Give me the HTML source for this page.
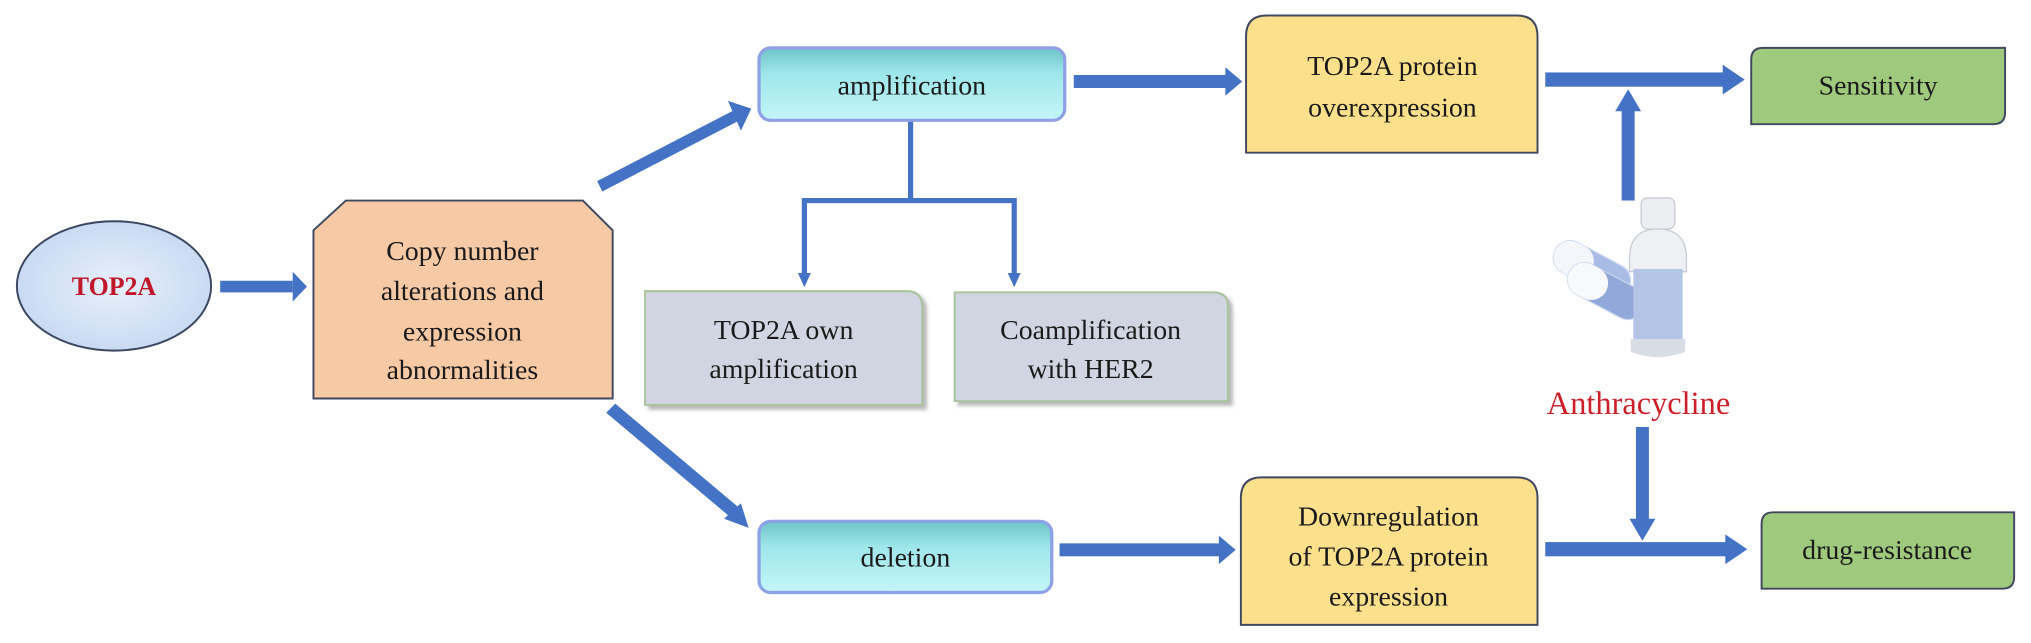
<!DOCTYPE html>
<html><head><meta charset="utf-8"><style>
body{margin:0;background:#fff}
svg{display:block}
text{font-family:"Liberation Serif",serif;fill:#1a1a1a;font-size:21.5px;text-anchor:middle}
</style></head><body>
<svg width="2031" height="643" viewBox="0 0 1568 497" preserveAspectRatio="none">
<defs>
<linearGradient id="cy" x1="0" y1="0" x2="0" y2="1"><stop offset="0" stop-color="#6cc4c8"/><stop offset="0.35" stop-color="#9ee6ea"/><stop offset="1" stop-color="#c4f6f8"/></linearGradient>
<radialGradient id="el" cx="0.5" cy="0.5" r="0.6"><stop offset="0" stop-color="#e8f0fb"/><stop offset="1" stop-color="#c2d6f0"/></radialGradient>
<filter id="sh"><feDropShadow dx="3" dy="3" stdDeviation="1.5" flood-color="#888" flood-opacity="0.6"/></filter>
</defs>
<g fill="#4472c4">
<rect x="170" y="217" width="56" height="9"/><polygon points="226,210 237,221.5 226,233"/>
<polygon points="461,140 567,85 571,93 465,148"/><polygon points="562,78 580,84 572,101"/>
<rect x="829" y="58" width="118" height="10"/><polygon points="946,52 959,63 946,74"/>
<rect x="1193" y="56" width="138" height="11"/><polygon points="1330,50 1347,61.5 1330,73"/>
<rect x="1252" y="84" width="10" height="71"/><polygon points="1247,86 1257,69 1267,86"/>
<polygon points="468,319 475,312 570,392 563,399"/><polygon points="559,401 578,408 572,389"/>
<rect x="818" y="420" width="124" height="10"/><polygon points="941,414 954,425 941,436"/>
<rect x="1193" y="419" width="140" height="11"/><polygon points="1332,413 1349,424.5 1332,436"/>
<rect x="1263" y="330" width="10" height="72"/><polygon points="1258,401 1268,418 1278,401"/>
</g>
<g stroke="#4472c4" stroke-width="4" fill="none">
<path d="M703,92 V155 M619,155 H785 M621,155 V212 M783,155 V212"/>
</g>
<polygon points="616,211 626,211 621,222" fill="#4472c4"/>
<polygon points="778,211 788,211 783,222" fill="#4472c4"/>

<ellipse cx="88" cy="221" rx="75" ry="50" fill="url(#el)" stroke="#3a4560" stroke-width="1.5"/>
<text x="88" y="228" style="font-weight:bold;fill:#c0182a;font-size:20px">TOP2A</text>

<polygon points="267,155 450,155 473,178 473,308 242,308 242,178" fill="#f7c9a5" stroke="#404860" stroke-width="1.5"/>
<text x="357" y="201">Copy number</text>
<text x="357" y="232">alterations and</text>
<text x="357" y="263">expression</text>
<text x="357" y="293">abnormalities</text>

<rect x="586" y="37" width="236" height="56" rx="9" fill="url(#cy)" stroke="#8ea0e6" stroke-width="2.5"/>
<text x="704" y="73">amplification</text>

<path d="M498,225 H700 Q712,225 712,237 V313 H498 Z" fill="#d1d5e1" stroke="#a8c49a" stroke-width="1.5" filter="url(#sh)"/>
<text x="605" y="262">TOP2A own</text>
<text x="605" y="292">amplification</text>
<path d="M737,226 H937 Q948,226 948,237 V310 H737 Z" fill="#d1d5e1" stroke="#a8c49a" stroke-width="1.5" filter="url(#sh)"/>
<text x="842" y="262">Coamplification</text>
<text x="842" y="292">with HER2</text>

<path d="M962,118 V28 Q962,12 978,12 H1171 Q1187,12 1187,28 V118 Z" fill="#fde08c" stroke="#404860" stroke-width="1.5"/>
<text x="1075" y="58">TOP2A protein</text>
<text x="1075" y="90">overexpression</text>
<path d="M958,483 V385 Q958,369 974,369 H1171 Q1187,369 1187,385 V483 Z" fill="#fde08c" stroke="#404860" stroke-width="1.5"/>
<text x="1072" y="406">Downregulation</text>
<text x="1072" y="437">of TOP2A protein</text>
<text x="1072" y="468">expression</text>

<rect x="586" y="403" width="226" height="55" rx="9" fill="url(#cy)" stroke="#8ea0e6" stroke-width="2.5"/>
<text x="699" y="438">deletion</text>

<path d="M1352,96 V46 Q1352,37 1361,37 H1548 V87 Q1548,96 1539,96 Z" fill="#9fca7e" stroke="#404860" stroke-width="1.5"/>
<text x="1450" y="73">Sensitivity</text>
<path d="M1360,455 V405 Q1360,396 1369,396 H1555 V446 Q1555,455 1546,455 Z" fill="#9fca7e" stroke="#404860" stroke-width="1.5"/>
<text x="1457" y="432">drug-resistance</text>

<g>
<rect x="1197" y="195" width="64" height="26" rx="13" transform="rotate(28 1229 208)" fill="#a8bce6" stroke="#c8d4ee"/>
<rect x="1197" y="195" width="32" height="26" rx="13" transform="rotate(28 1229 208)" fill="#f4f6fc"/>
<rect x="1208" y="212" width="64" height="26" rx="13" transform="rotate(28 1240 225)" fill="#92a8da" stroke="#c8d4ee"/>
<rect x="1208" y="212" width="32" height="26" rx="13" transform="rotate(28 1240 225)" fill="#f8f9fd"/>
<rect x="1267" y="153" width="26" height="24" rx="5" fill="#eceef2" stroke="#c8ccd4"/>
<path d="M1258,200 Q1258,177 1280,177 Q1302,177 1302,200 V210 H1258 Z" fill="#eef0f4" stroke="#c8ccd4"/>
<rect x="1261" y="208" width="38" height="56" fill="#b4c4e6"/>
<path d="M1259,262 H1301 V272 Q1280,280 1259,272 Z" fill="#d8dce4"/>
</g>
<text x="1265" y="320" style="fill:#cc1f2a;font-size:25px">Anthracycline</text>
</svg>
</body></html>
